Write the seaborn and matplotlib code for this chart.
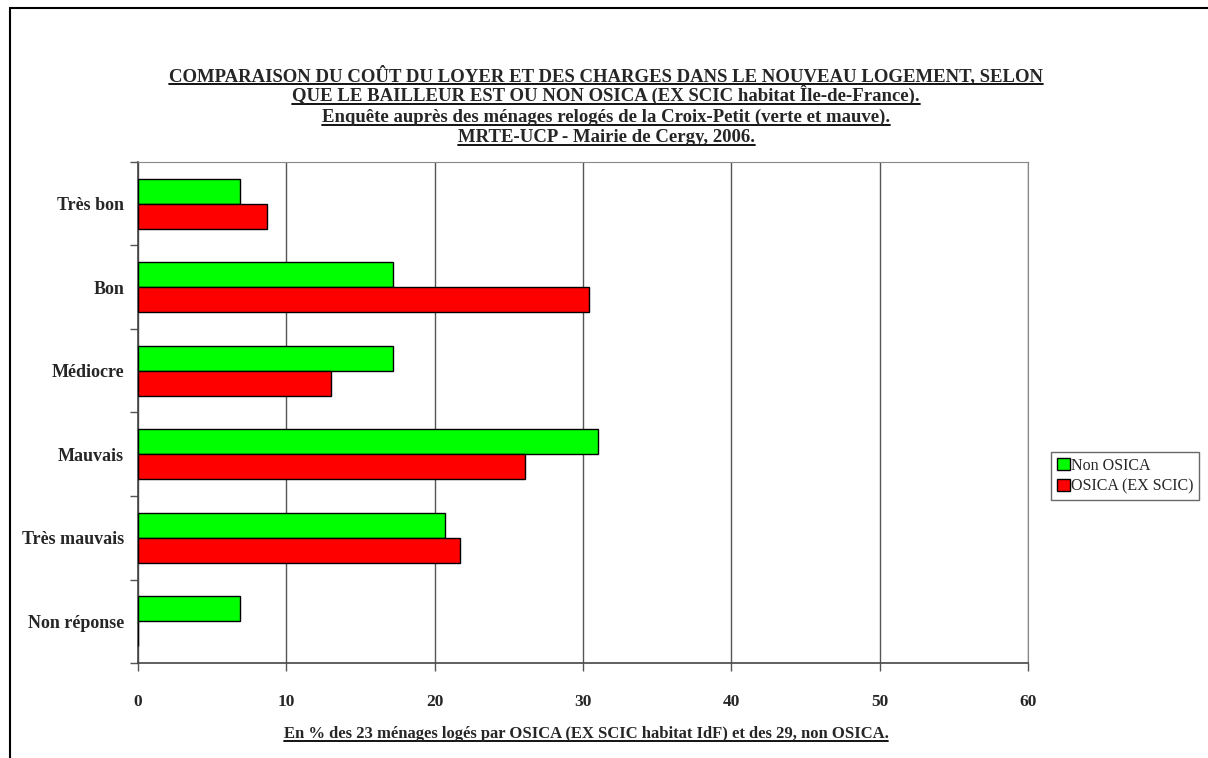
import pandas as pd
import numpy as np
import matplotlib
matplotlib.use("Agg")
import matplotlib.pyplot as plt
import seaborn as sns
from matplotlib.lines import Line2D
from matplotlib.patches import Rectangle

# Data
categories = ["Très bon", "Bon", "Médiocre", "Mauvais", "Très mauvais", "Non réponse"]
series_names = ["Non OSICA", "OSICA (EX SCIC)"]
non_osica = [6.9, 17.2, 17.2, 31.0, 20.7, 6.9]
osica = [8.7, 30.4, 13.0, 26.1, 21.7, 0.0]
x_ticks = [0, 10, 20, 30, 40, 50, 60]

title_lines = [
    "COMPARAISON DU COÛT DU LOYER ET DES CHARGES DANS LE NOUVEAU LOGEMENT, SELON",
    "QUE LE BAILLEUR EST OU NON OSICA (EX SCIC habitat Île-de-France).",
    "Enquête auprès des ménages relogés de la Croix-Petit (verte et mauve).",
    "MRTE-UCP - Mairie de Cergy, 2006.",
]
x_label = "En % des 23 ménages logés par OSICA (EX SCIC habitat IdF) et des 29, non OSICA."

df = pd.DataFrame({
    "categorie": categories * 2,
    "serie": [series_names[0]] * len(categories) + [series_names[1]] * len(categories),
    "valeur": non_osica + osica,
})

sns.set_style("white")
plt.rcParams["font.family"] = ["Liberation Serif", "DejaVu Serif"]

W, H = 1208, 758
fig = plt.figure(figsize=(W / 100, H / 100), dpi=100)
ax = fig.add_axes([138 / W, 1 - 663 / H, (1028 - 138) / W, (663 - 162) / H])

sns.barplot(data=df, y="categorie", x="valeur", hue="serie", order=categories,
            hue_order=series_names, palette=["#00FF00", "#FF0000"], orient="h",
            width=0.6, edgecolor="black", linewidth=1.0, saturation=1,
            errorbar=None, legend=False, ax=ax, zorder=3)

ax.set_xlim(0, 60)
ax.set_xticks(x_ticks)
ax.set_xticklabels([str(t) for t in x_ticks], fontsize=12.5, fontweight="bold")
ax.set_ylim(len(categories) - 0.5, -0.5)
ax.set_yticks(range(len(categories)))
ax.set_yticklabels(categories, fontsize=13, fontweight="bold")
ax.tick_params(axis="y", which="major", left=False, length=0, pad=10)
ax.tick_params(axis="x", bottom=True, length=6, width=1, direction="out", pad=16,
               color="#555555")
# tick marks between categories
ax.set_yticks(np.arange(-0.5, len(categories), 1), minor=True)
ax.tick_params(axis="y", which="minor", left=True, length=6, width=1,
               direction="out", color="#555555")
ax.xaxis.grid(True, color="#555555", linewidth=1.0, zorder=0)
ax.set_axisbelow(True)
for side in ["top", "right"]:
    ax.spines[side].set_color("#888888")
for side in ["left", "bottom"]:
    ax.spines[side].set_color("#444444")
    ax.spines[side].set_linewidth(1.2)
ax.set_xlabel("")
ax.set_ylabel("")

handles = [Rectangle((0, 0), 1, 1, facecolor="#00FF00", edgecolor="black"),
           Rectangle((0, 0), 1, 1, facecolor="#FF0000", edgecolor="black")]
leg = fig.legend(handles, series_names, loc="upper left",
                 bbox_to_anchor=(1048 / W, 1 - 449 / H), fontsize=11.5,
                 frameon=True, fancybox=False, edgecolor="#444444",
                 handlelength=0.8, handleheight=0.8, handletextpad=0.1,
                 borderpad=0.35, labelspacing=0.3, borderaxespad=0.2)
leg.get_frame().set_linewidth(1.0)

# titles
texts = []
for i, line in enumerate(title_lines):
    t = fig.text(0.5 + 2 / W, 1 - (81 + i * 20.3) / H, line, ha="center",
                 va="baseline", fontsize=13.5, fontweight="bold")
    texts.append(t)
t = fig.text((138 + 1028) / 2 / W + 3 / W, 1 - 738 / H, x_label, ha="center",
             va="baseline", fontsize=12, fontweight="bold")
texts.append(t)

# underline each text, just under the baseline
fig.canvas.draw()
renderer = fig.canvas.get_renderer()
for t in texts:
    bb = t.get_window_extent(renderer=renderer)
    y = t.get_position()[1] - 3 / H
    fig.add_artist(Line2D([bb.x0 / W, bb.x1 / W], [y, y], color="black", linewidth=1.3))

# outer frame
fig.add_artist(Line2D([10 / W, 1.0], [1 - 8 / H, 1 - 8 / H], color="black", linewidth=1.5))
fig.add_artist(Line2D([10 / W, 10 / W], [0.0, 1 - 8 / H], color="black", linewidth=1.5))

fig.savefig("out.png", dpi=100)
